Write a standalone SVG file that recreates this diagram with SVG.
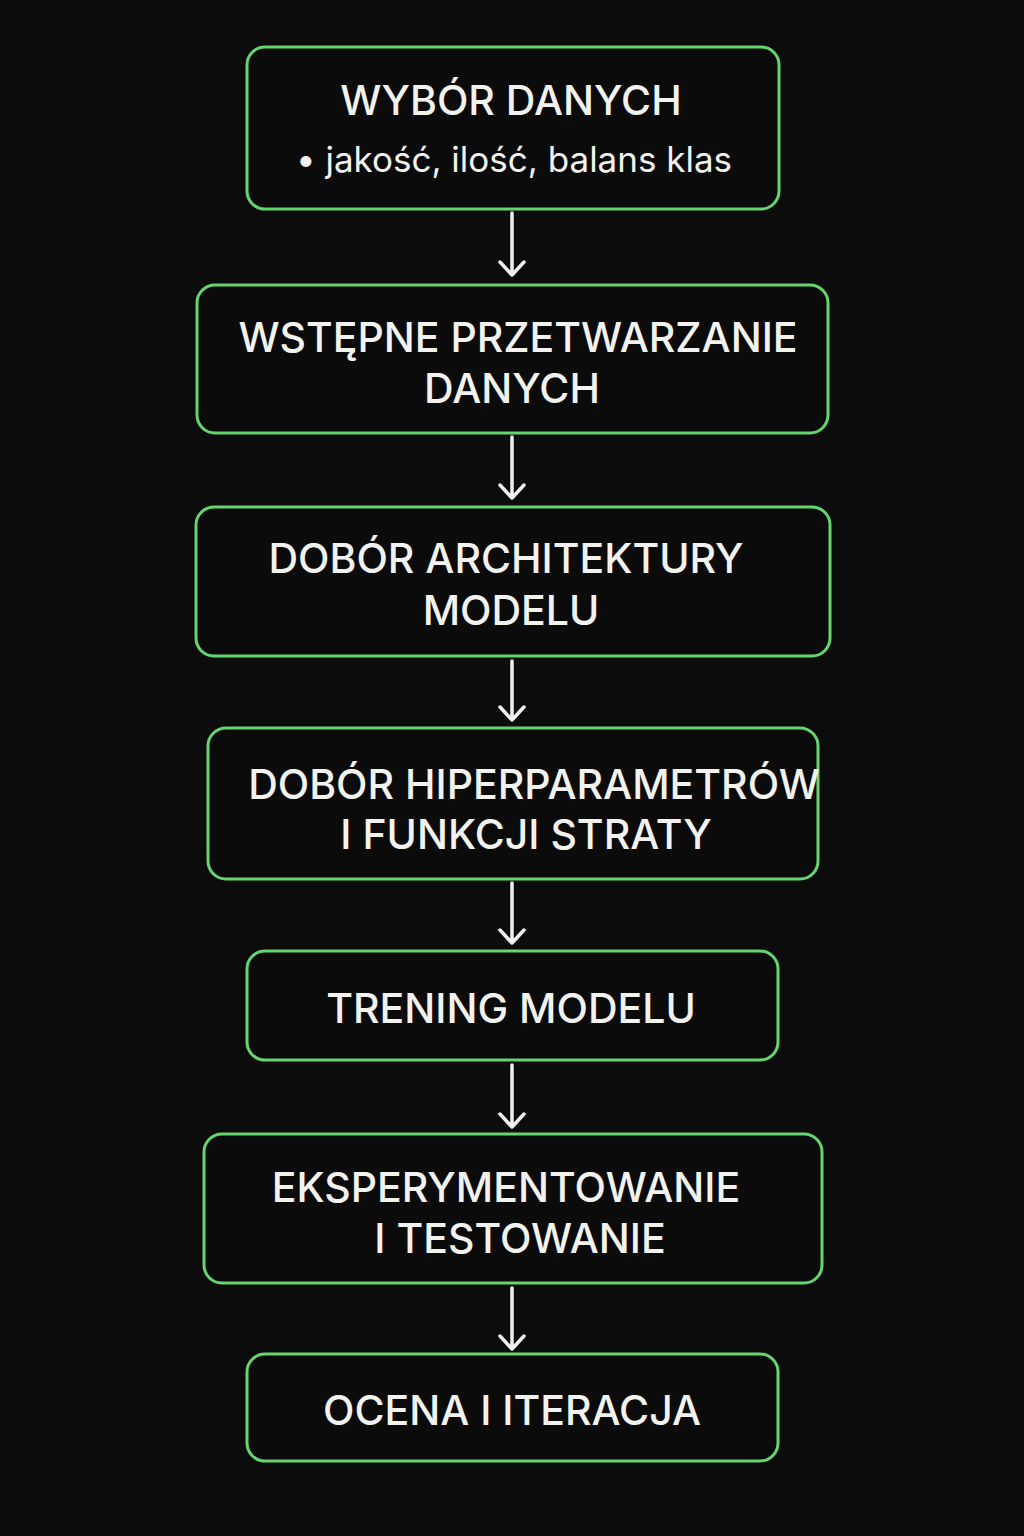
<svg xmlns="http://www.w3.org/2000/svg" width="1024" height="1536" viewBox="0 0 1024 1536">
  <style>
    .box { fill: #0b0b0b; stroke: #66d46f; stroke-width: 3; }
    .t { fill: #f2f2ee; font-family: Inter, "Noto Sans", "DejaVu Sans", sans-serif; font-size: 41px; font-weight: 500; text-anchor: middle; }
    .s { font-size: 35px; font-weight: 400; }
    .edge { stroke: #f0f0ec; stroke-width: 3.5; fill: none; stroke-linecap: round; stroke-linejoin: round; }
  </style>
  <rect width="1024" height="1536" fill="#0c0c0c"/>

  <g id="n1">
    <rect class="box" x="247" y="47" width="532" height="162" rx="18"/>
    <text class="t" x="511" y="115">WYBÓR DANYCH</text>
    <text class="t s" x="514" y="172">• jakość, ilość, balans klas</text>
  </g>
  <g id="n2">
    <rect class="box" x="197" y="285" width="631" height="148" rx="18"/>
    <text class="t" x="518" y="352">WSTĘPNE PRZETWARZANIE</text>
    <text class="t" x="512" y="403">DANYCH</text>
  </g>
  <g id="n3">
    <rect class="box" x="196" y="507" width="634" height="149" rx="18"/>
    <text class="t" x="506" y="573">DOBÓR ARCHITEKTURY</text>
    <text class="t" x="511" y="625">MODELU</text>
  </g>
  <g id="n4">
    <rect class="box" x="208" y="728" width="610" height="151" rx="18"/>
    <text class="t" x="534" y="799">DOBÓR HIPERPARAMETRÓW</text>
    <text class="t" x="526" y="849">I FUNKCJI STRATY</text>
  </g>
  <g id="n5">
    <rect class="box" x="247" y="951" width="531" height="109" rx="18"/>
    <text class="t" x="511" y="1023">TRENING MODELU</text>
  </g>
  <g id="n6">
    <rect class="box" x="204" y="1134" width="618" height="149" rx="18"/>
    <text class="t" x="506" y="1202">EKSPERYMENTOWANIE</text>
    <text class="t" x="520" y="1253">I TESTOWANIE</text>
  </g>
  <g id="n7">
    <rect class="box" x="247" y="1354" width="531" height="107" rx="18"/>
    <text class="t" x="512" y="1425">OCENA I ITERACJA</text>
  </g>

  <g id="edges">
    <path class="edge" d="M512 213 V275 M500 262 L512 275 L524 262"/>
    <path class="edge" d="M512 437 V498 M500 485 L512 498 L524 485"/>
    <path class="edge" d="M512 661 V720 M500 707 L512 720 L524 707"/>
    <path class="edge" d="M512 883 V943 M500 930 L512 943 L524 930"/>
    <path class="edge" d="M512 1065 V1127 M500 1114 L512 1127 L524 1114"/>
    <path class="edge" d="M512 1288 V1349 M500 1336 L512 1349 L524 1336"/>
  </g>
</svg>
